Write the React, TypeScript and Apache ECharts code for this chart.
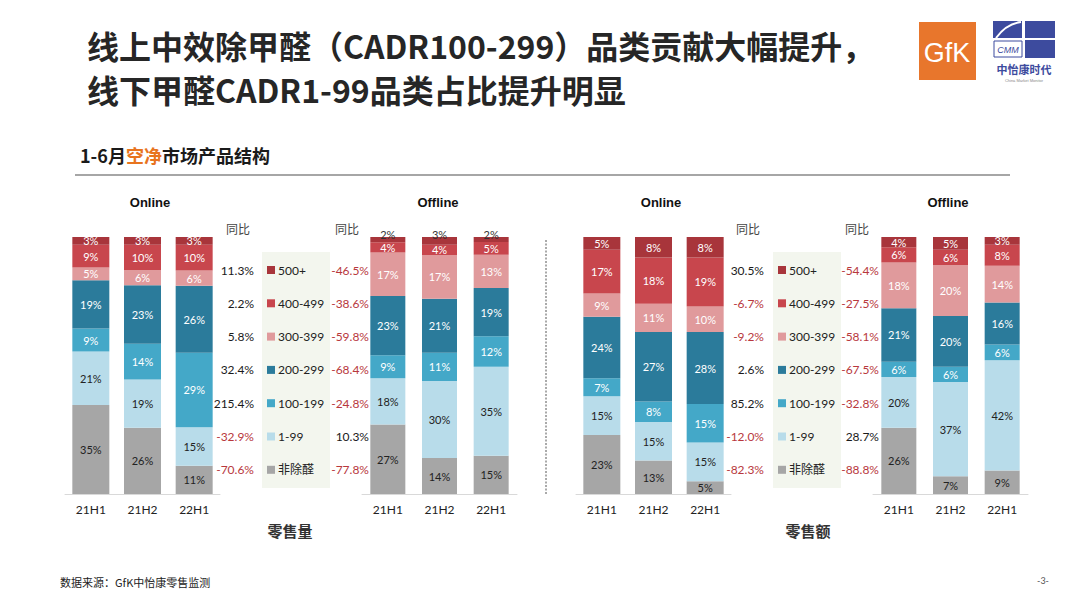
import { useEffect, useRef } from "react";
import * as echarts from "echarts";

// ---------------- data ----------------
const categories = ["21H1", "21H2", "22H1"];
// bottom -> top stacking order
const segments = ["非除醛", "1-99", "100-199", "200-299", "300-399", "400-499", "500+"];
const segmentColors = ["#a6a6a6", "#b8dcea", "#44a8c8", "#2b7b9b", "#e09a9c", "#c8464d", "#a8353b"];

// rows follow `segments`, columns follow `categories` (share, %)
const volumeOnline = [
  [35, 26, 11],
  [21, 19, 15],
  [9, 14, 29],
  [19, 23, 26],
  [5, 6, 6],
  [9, 10, 10],
  [3, 3, 3],
];
const volumeOffline = [
  [27, 14, 15],
  [18, 30, 35],
  [9, 11, 12],
  [23, 21, 19],
  [17, 17, 13],
  [4, 4, 5],
  [2, 3, 2],
];
const valueOnline = [
  [23, 13, 5],
  [15, 15, 15],
  [7, 8, 15],
  [24, 27, 28],
  [9, 11, 10],
  [17, 18, 19],
  [5, 8, 8],
];
const valueOffline = [
  [26, 7, 9],
  [20, 37, 42],
  [6, 6, 6],
  [21, 20, 16],
  [18, 20, 14],
  [6, 6, 8],
  [4, 5, 3],
];

// YoY (%), order follows `segments`
const yoyVolumeOnline = [-70.6, -32.9, 215.4, 32.4, 5.8, 2.2, 11.3];
const yoyVolumeOffline = [-77.8, 10.3, -24.8, -68.4, -59.8, -38.6, -46.5];
const yoyValueOnline = [-82.3, -12.0, 85.2, 2.6, -9.2, -6.7, 30.5];
const yoyValueOffline = [-88.8, 28.7, -32.8, -67.5, -58.1, -27.5, -54.4];

const titleLine1 = "线上中效除甲醛（CADR100-299）品类贡献大幅提升，";
const titleLine2 = "线下甲醛CADR1-99品类占比提升明显";
const subtitleParts = ["1-6月", "空净", "市场产品结构"];
const channelNames = ["Online", "Offline", "Online", "Offline"];
const metricNames = ["零售量", "零售额"];
const yoyHeader = "同比";
const sourceText = "数据来源：GfK中怡康零售监测";
const pageNumber = "-3-";

const NUM_FONT = "Lato, 'Noto Sans', 'Noto Sans CJK SC', sans-serif";
const CJK_FONT = "'Noto Sans CJK SC', 'Noto Sans', sans-serif";

export default function App() {
  const ref = useRef<HTMLDivElement>(null);

  useEffect(() => {
    if (!ref.current) return;
    const chart = echarts.init(ref.current, null, { renderer: "svg" });

    const panels = [
      { data: volumeOnline, yoy: yoyVolumeOnline, left: 65, barWidth: 37, titleX: 150, yoyX: 254, headX: 238, topOutside: false },
      { data: volumeOffline, yoy: yoyVolumeOffline, left: 362, barWidth: 35, titleX: 438, yoyX: 369, headX: 347, topOutside: true },
      { data: valueOnline, yoy: yoyValueOnline, left: 576, barWidth: 37, titleX: 661, yoyX: 764, headX: 748, topOutside: false },
      { data: valueOffline, yoy: yoyValueOffline, left: 873, barWidth: 35, titleX: 948, yoyX: 879, headX: 857, topOutside: false },
    ];

    const grids = panels.map((p) => ({ left: p.left, top: 237, width: 155, height: 257 }));
    const xAxes = panels.map((_, i) => ({
      type: "category" as const,
      gridIndex: i,
      data: categories,
      axisLine: { lineStyle: { color: "#d9d9d9", width: 1 } },
      axisTick: { show: false },
      axisLabel: { color: "#222", fontSize: 12, fontFamily: NUM_FONT, margin: 9 },
    }));
    const yAxes = panels.map((_, i) => ({
      type: "value" as const,
      gridIndex: i,
      min: 0,
      max: 100,
      show: false,
      splitLine: { show: false },
    }));

    const series: any[] = [];
    panels.forEach((p, pi) => {
      const totals = categories.map((_, ci) => p.data.reduce((s, row) => s + row[ci], 0));
      segments.forEach((seg, si) => {
        const isTopOutside = p.topOutside && si === segments.length - 1;
        series.push({
          type: "bar",
          name: seg,
          xAxisIndex: pi,
          yAxisIndex: pi,
          stack: "s" + pi,
          barWidth: p.barWidth,
          itemStyle: { color: segmentColors[si] },
          label: {
            show: true,
            position: isTopOutside ? "top" : "inside",
            distance: isTopOutside ? -3 : 5,
            fontSize: 11,
            fontFamily: NUM_FONT,
            color: isTopOutside ? "#333" : si <= 1 ? "#222" : "#fff",
            formatter: (params: any) => params.data.raw + "%",
          },
          data: p.data[si].map((v, ci) => ({ value: (v * 100) / totals[ci], raw: v })),
        });
      });
    });

    const legendOrder = [...segments].reverse();
    const legends = [262, 773].map((x) => ({
      orient: "vertical" as const,
      left: x + 5,
      top: 263,
      padding: 0,
      itemWidth: 8,
      itemHeight: 8,
      itemGap: 19.3,
      icon: "rect",
      selectedMode: false,
      data: legendOrder,
      textStyle: { fontSize: 12, color: "#222", fontFamily: NUM_FONT, lineHeight: 14, padding: [0, 0, 0, -2] },
    }));

    const graphic: any[] = [];
    // legend backgrounds
    [262, 773].forEach((x) => {
      graphic.push({ type: "rect", left: x, top: 252, z: -10, shape: { width: 68, height: 236 }, style: { fill: "#f3f6ee" } });
    });
    // header
    graphic.push({
      type: "text", left: 87, top: 29,
      style: { text: titleLine1, font: `bold 32px ${CJK_FONT}`, fill: "#262626" },
    });
    graphic.push({
      type: "text", left: 87, top: 73,
      style: { text: titleLine2, font: `bold 32px ${CJK_FONT}`, fill: "#262626" },
    });
    // subtitle
    graphic.push({
      type: "text", left: 80, top: 146,
      style: {
        text: `{a|${subtitleParts[0]}}{b|${subtitleParts[1]}}{a|${subtitleParts[2]}}`,
        rich: {
          a: { font: `bold 18px ${CJK_FONT}`, fontWeight: "bold", fontSize: 18, fontFamily: CJK_FONT, fill: "#1a1a1a" },
          b: { font: `bold 18px ${CJK_FONT}`, fontWeight: "bold", fontSize: 18, fontFamily: CJK_FONT, fill: "#e8741e" },
        },
      },
    });
    graphic.push({ type: "line", shape: { x1: 75, y1: 175, x2: 1010, y2: 175 }, style: { stroke: "#a6a6a6", lineWidth: 2 } });
    // dotted divider
    graphic.push({ type: "line", shape: { x1: 546, y1: 240, x2: 546, y2: 495 }, style: { stroke: "#555", lineWidth: 1, lineDash: [2, 1.5] } });

    // panel titles + yoy columns
    panels.forEach((p, pi) => {
      graphic.push({
        type: "text", x: p.titleX, y: 202,
        style: { text: channelNames[pi], font: `bold 13px Arial, 'Liberation Sans', sans-serif`, fill: "#111", align: "center", verticalAlign: "middle" },
      });
      graphic.push({
        type: "text", x: p.headX, y: 228,
        style: { text: yoyHeader, font: `12px ${CJK_FONT}`, fill: "#444", align: "center", verticalAlign: "middle" },
      });
      const yoyTopDown = [...p.yoy].reverse();
      yoyTopDown.forEach((v, ri) => {
        graphic.push({
          type: "text", x: p.yoyX, y: 270 + ri * 33.3,
          style: {
            text: v.toFixed(1) + "%",
            font: `12px ${NUM_FONT}`,
            fill: v < 0 ? "#b8383d" : "#1a1a1a",
            align: "right",
            verticalAlign: "middle",
          },
        });
      });
    });
    // metric labels
    [290, 808].forEach((x, i) => {
      graphic.push({
        type: "text", x, y: 530,
        style: { text: metricNames[i], font: `bold 15px ${CJK_FONT}`, fill: "#333", align: "center", verticalAlign: "middle" },
      });
    });
    // footer
    graphic.push({ type: "text", left: 60, top: 576, style: { text: sourceText, font: `11px ${CJK_FONT}`, fill: "#222" } });
    graphic.push({ type: "text", x: 1043, y: 580, style: { text: pageNumber, font: `9px ${NUM_FONT}`, fill: "#555", align: "center", verticalAlign: "middle" } });

    // GfK logo
    graphic.push({ type: "rect", shape: { x: 919, y: 22, width: 57, height: 58 }, style: { fill: "#e8762c" } });
    graphic.push({
      type: "text", x: 947, y: 53,
      style: { text: "GfK", font: `27px Arial, 'Liberation Sans', sans-serif`, fill: "#fff", align: "center", verticalAlign: "middle" },
    });
    // CMM logo
    const blue = "#3d4b9e";
    graphic.push({ type: "rect", shape: { x: 993, y: 21, width: 29, height: 17 }, style: { fill: blue } });
    graphic.push({ type: "bezierCurve", shape: { x1: 996, y1: 38, x2: 1021, y2: 22, cpx1: 1004, cpy1: 27, cpx2: 1012, cpy2: 23 }, style: { stroke: "#fff", lineWidth: 2, fill: "none" } });
    graphic.push({ type: "rect", shape: { x: 1025, y: 21, width: 30, height: 17 }, style: { fill: blue } });
    graphic.push({ type: "rect", shape: { x: 1025, y: 40, width: 30, height: 18 }, style: { fill: blue } });
    graphic.push({ type: "rect", shape: { x: 994, y: 41, width: 28, height: 16 }, style: { fill: "#fff", stroke: blue, lineWidth: 1 } });
    graphic.push({
      type: "text", x: 1008, y: 50,
      style: { text: "CMM", font: `italic 9px Arial, sans-serif`, fill: blue, align: "center", verticalAlign: "middle" },
    });
    graphic.push({
      type: "text", x: 1024, y: 69,
      style: { text: "中怡康时代", font: `bold 11px ${CJK_FONT}`, fill: blue, align: "center", verticalAlign: "middle" },
    });
    graphic.push({
      type: "text", x: 1024, y: 80,
      style: { text: "China Market Monitor", font: `4px Arial, sans-serif`, fill: "#888", align: "center", verticalAlign: "middle" },
    });

    chart.setOption({
      animation: false,
      backgroundColor: "#ffffff",
      grid: grids,
      xAxis: xAxes,
      yAxis: yAxes,
      legend: legends,
      series,
      graphic,
    });

    return () => chart.dispose();
  }, []);

  return (
    <div
      ref={ref}
      style={{ position: "absolute", left: 0, top: 0, width: 1080, height: 608, background: "#fff" }}
    />
  );
}
